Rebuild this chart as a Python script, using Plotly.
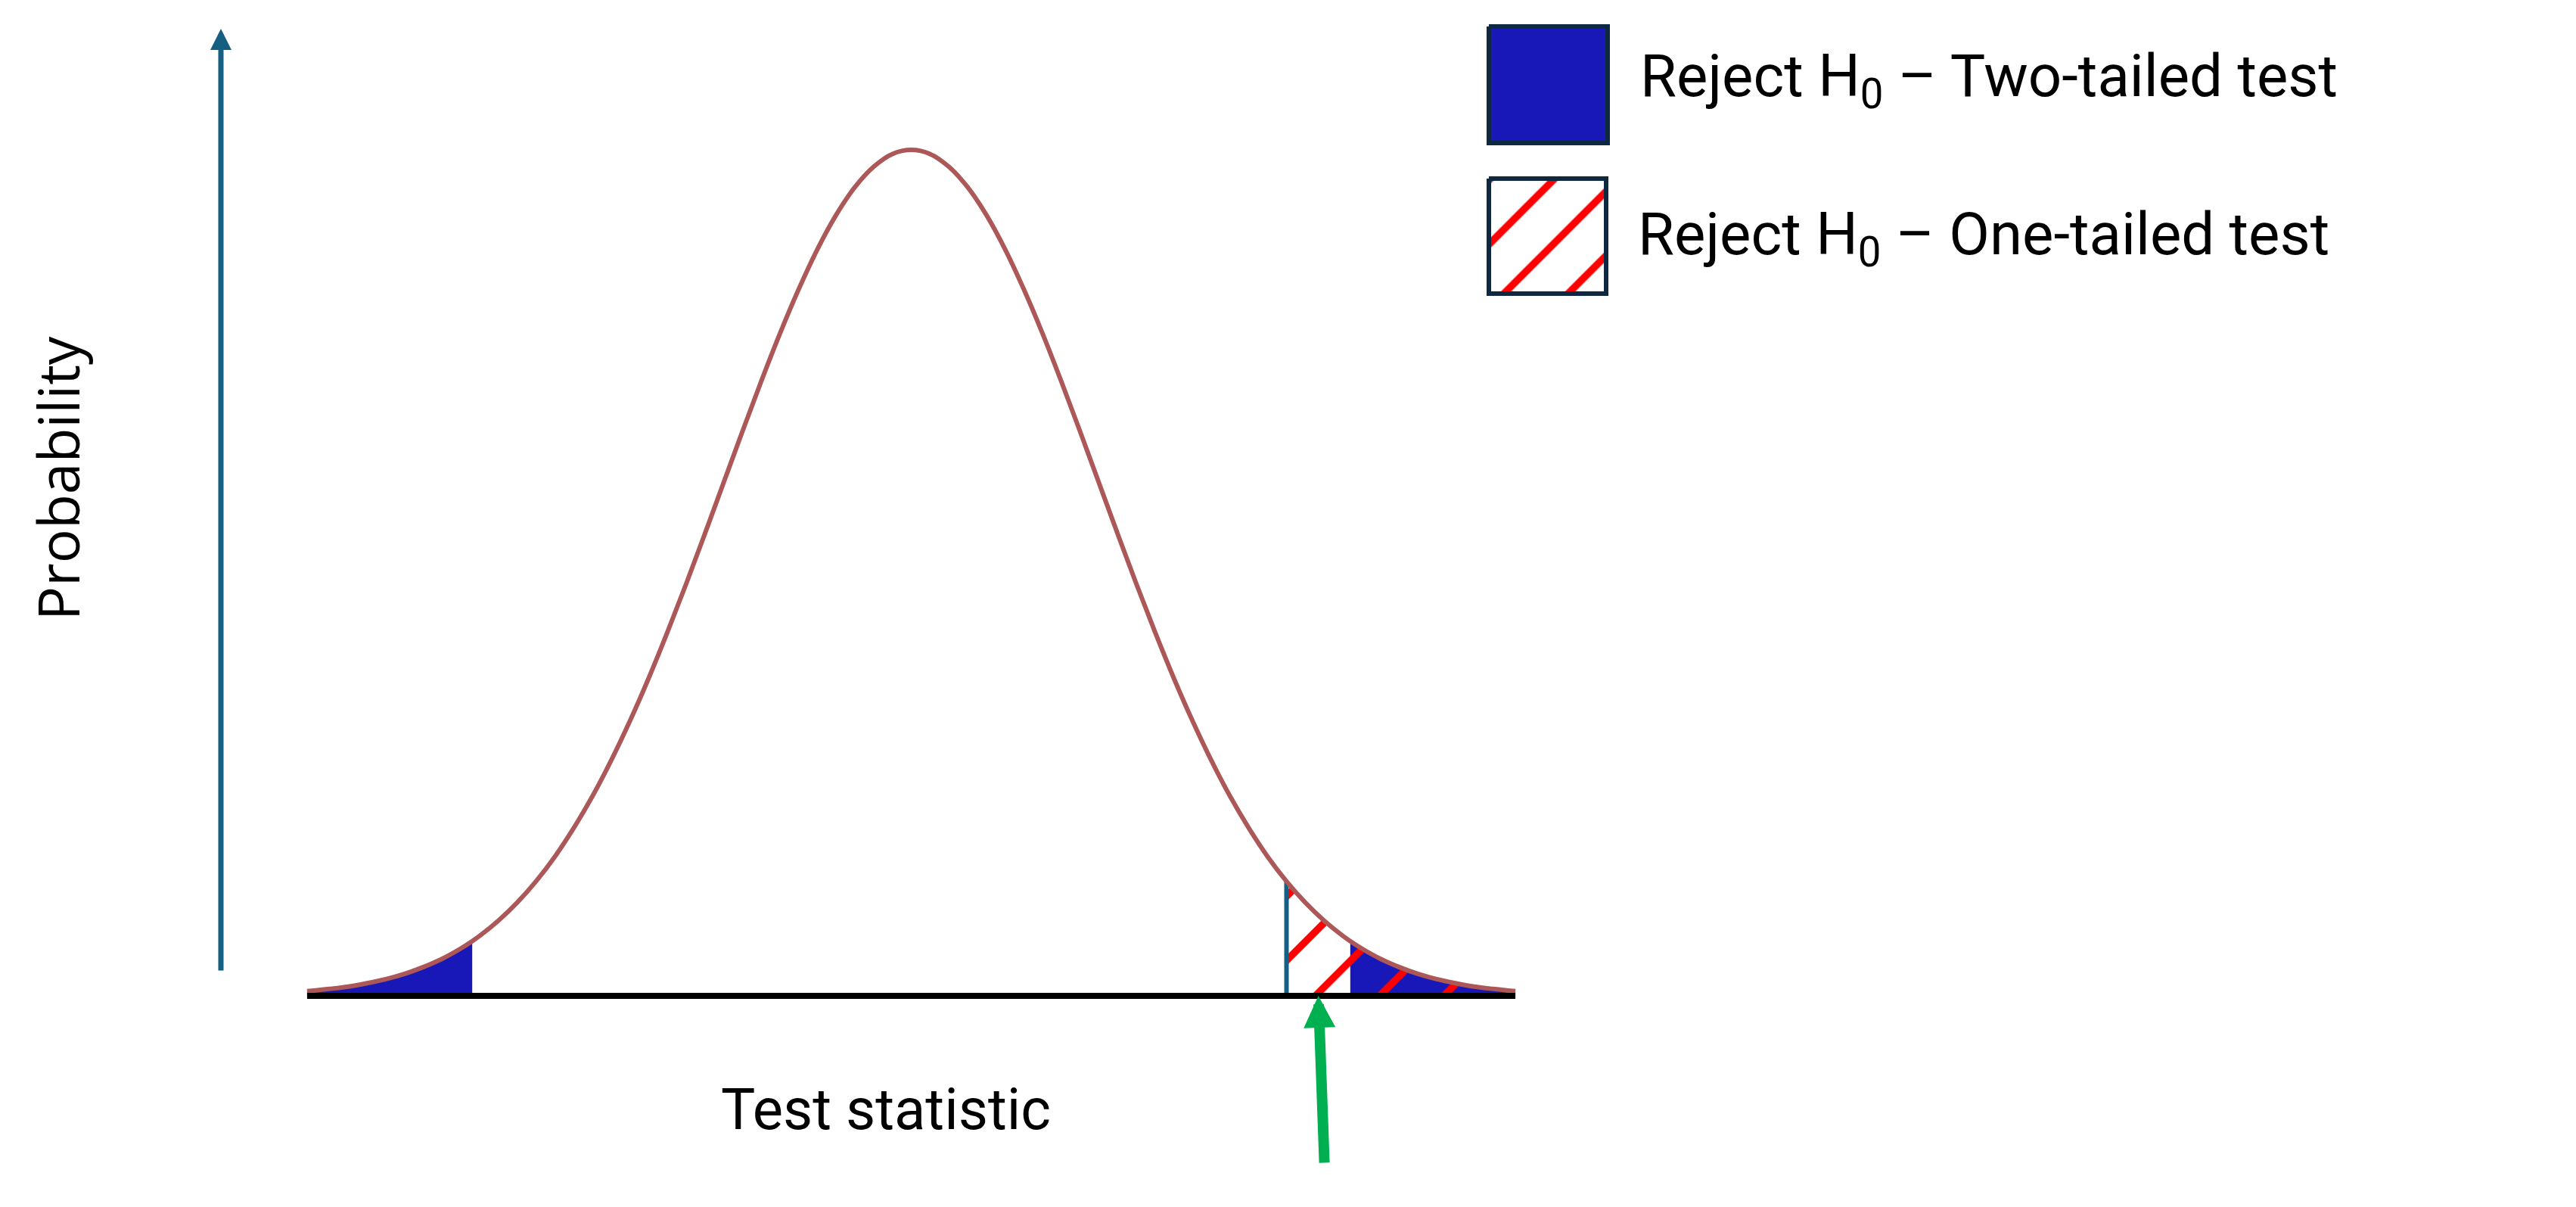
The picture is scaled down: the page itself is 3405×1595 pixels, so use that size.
import plotly.graph_objects as go

# ---- data (standard normal test-statistic density) ----
z_values = [-3.22, -3.1, -3.0, -2.9, -2.8, -2.7, -2.6, -2.5, -2.4, -2.34, -2.3, -2.2, -2.1,
            -2.0, -1.9, -1.8, -1.7, -1.6, -1.5, -1.4, -1.3, -1.2, -1.1, -1.0, -0.9, -0.8,
            -0.7, -0.6, -0.5, -0.4, -0.3, -0.2, -0.1, 0.0, 0.1, 0.2, 0.3, 0.4, 0.5, 0.6,
            0.7, 0.8, 0.9, 1.0, 1.1, 1.2, 1.3, 1.4, 1.5, 1.6, 1.7, 1.8, 1.9, 2.0, 2.1,
            2.2, 2.3, 2.34, 2.4, 2.5, 2.6, 2.7, 2.8, 2.9, 3.0, 3.1, 3.22]
density = [0.0022, 0.0033, 0.0044, 0.0060, 0.0079, 0.0104, 0.0136, 0.0175, 0.0224, 0.0258,
           0.0283, 0.0355, 0.0440, 0.0540, 0.0656, 0.0790, 0.0940, 0.1109, 0.1295, 0.1497,
           0.1714, 0.1942, 0.2179, 0.2420, 0.2661, 0.2897, 0.3123, 0.3332, 0.3521, 0.3683,
           0.3814, 0.3910, 0.3970, 0.3989, 0.3970, 0.3910, 0.3814, 0.3683, 0.3521, 0.3332,
           0.3123, 0.2897, 0.2661, 0.2420, 0.2179, 0.1942, 0.1714, 0.1497, 0.1295, 0.1109,
           0.0940, 0.0790, 0.0656, 0.0540, 0.0440, 0.0355, 0.0283, 0.0258, 0.0224, 0.0175,
           0.0136, 0.0104, 0.0079, 0.0060, 0.0044, 0.0033, 0.0022]
two_tailed_crit = 2.34
one_tailed_crit = 2.0
observed_stat = 2.17

legend_labels = ["Reject H<sub>0</sub> – Two-tailed test",
                 "Reject H<sub>0</sub> – One-tailed test"]
x_label = "Test statistic"
y_label = "Probability"

# ---- page geometry / styles ----
W, H = 3405, 1595
CX, SX = 1204.5, 248.0      # pixel of z=0, pixels per z unit
BY, SY = 1316.0, 2802.4     # pixel of density 0, pixels per density unit
BLUE = "#1818B8"
RED = "#FF0000"
TEAL = "#156082"
NAVY = "#0E2841"
GREEN = "#00B050"
CURVE = "#AD5858"

x_range = [(0 - CX) / SX, (W - CX) / SX]
y_range = [(BY - H) / SY, BY / SY]

def sub(cond):
    xs = [z for z in z_values if cond(z)]
    ys = [d for z, d in zip(z_values, density) if cond(z)]
    return xs, ys

HATCH = dict(shape="/", fgcolor=RED, fgopacity=1, size=60, solidity=0.16)

fig = go.Figure()

lx, ly = sub(lambda z: z <= -two_tailed_crit)
rx, ry = sub(lambda z: z >= two_tailed_crit)
hx, hy = sub(lambda z: z >= one_tailed_crit)

for xs, ys in [(lx, ly), (rx, ry)]:
    fig.add_trace(go.Scatter(x=xs, y=ys, mode="lines", fill="tozeroy",
                             fillcolor=BLUE, line=dict(width=0),
                             showlegend=False, hoverinfo="skip"))

fig.add_trace(go.Scatter(x=hx, y=hy, mode="lines", fill="tozeroy",
                         fillcolor="rgba(0,0,0,0)",
                         fillpattern=dict(HATCH, bgcolor="rgba(0,0,0,0)"),
                         line=dict(width=0),
                         showlegend=False, hoverinfo="skip"))

# critical value marker (one-tailed)
crit_d = density[z_values.index(one_tailed_crit)]
fig.add_trace(go.Scatter(x=[one_tailed_crit, one_tailed_crit], y=[0, crit_d],
                         mode="lines", line=dict(color=TEAL, width=6),
                         showlegend=False, hoverinfo="skip"))

# density curve
fig.add_trace(go.Scatter(x=z_values, y=density, mode="lines",
                         line=dict(color=CURVE, width=6, shape="spline"),
                         showlegend=False, hoverinfo="skip"))

# baseline
fig.add_trace(go.Scatter(x=[z_values[0], z_values[-1]], y=[0, 0], mode="lines",
                         line=dict(color="black", width=8),
                         showlegend=False, hoverinfo="skip"))

# ---- legend swatches on a pixel overlay axis ----
boxes = [(1968, 35, 2125, 189), (1968, 236, 2123, 388)]
b = boxes[0]
fig.add_trace(go.Scatter(x=[b[0], b[2], b[2], b[0], b[0]], y=[b[1], b[1], b[3], b[3], b[1]],
                         xaxis="x2", yaxis="y2", mode="lines", fill="toself",
                         fillcolor=BLUE, line=dict(color=NAVY, width=6),
                         showlegend=False, hoverinfo="skip"))
b = boxes[1]
fig.add_trace(go.Scatter(x=[b[0], b[2], b[2], b[0], b[0]], y=[b[1], b[1], b[3], b[3], b[1]],
                         xaxis="x2", yaxis="y2", mode="lines", fill="toself",
                         fillcolor="white",
                         fillpattern=dict(HATCH, bgcolor="white"),
                         line=dict(color=NAVY, width=6),
                         showlegend=False, hoverinfo="skip"))

annotations = [
    # y axis arrow
    dict(x=(292 - CX) / SX, y=(BY - 38) / SY, xref="x", yref="y", ax=0, ay=1246,
         axref="pixel", ayref="pixel", text="", showarrow=True, arrowhead=2,
         arrowsize=0.8, arrowwidth=7, arrowcolor=TEAL),
    # observed statistic arrow
    dict(x=observed_stat, y=0, xref="x", yref="y", ax=8, ay=222, text="",
         showarrow=True, arrowhead=2, arrowsize=0.6, arrowwidth=14, arrowcolor=GREEN),
    dict(x=1171 / W, y=1 - 1466 / H, xref="paper", yref="paper", text=x_label,
         showarrow=False, xanchor="center", yanchor="middle",
         font=dict(family="Roboto", size=76, color="black")),
    dict(x=76 / W, y=1 - 632 / H, xref="paper", yref="paper", text=y_label,
         showarrow=False, xanchor="center", yanchor="middle", textangle=-90,
         font=dict(family="Open Sans", size=75, color="black")),
    dict(x=2166 / W, y=1 - 106 / H, xref="paper", yref="paper", text=legend_labels[0],
         showarrow=False, xanchor="left", yanchor="middle",
         font=dict(family="Roboto", size=78, color="black")),
    dict(x=2163 / W, y=1 - 314 / H, xref="paper", yref="paper", text=legend_labels[1],
         showarrow=False, xanchor="left", yanchor="middle",
         font=dict(family="Roboto", size=78, color="black")),
]

fig.update_layout(
    width=W, height=H, margin=dict(l=0, r=0, t=0, b=0),
    paper_bgcolor="white", plot_bgcolor="white",
    xaxis=dict(range=x_range, visible=False, fixedrange=True),
    yaxis=dict(range=y_range, visible=False, fixedrange=True),
    xaxis2=dict(range=[0, W], visible=False, overlaying="x", domain=[0, 1], anchor="y2"),
    yaxis2=dict(range=[H, 0], visible=False, overlaying="y", domain=[0, 1], anchor="x2"),
    annotations=annotations,
    showlegend=False,
)

fig.write_html("out.html", config={"displayModeBar": False},
               post_script="document.body.style.margin='0';document.body.style.overflow='hidden';")
